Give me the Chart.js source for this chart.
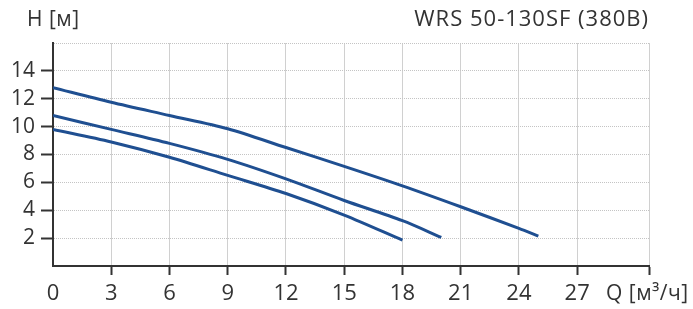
<!DOCTYPE html>
<html>
<head>
<meta charset="utf-8">
<script src="https://cdn.jsdelivr.net/npm/chart.js@4"></script>
<style>
  body { margin: 0; background: #fff; }
  #wrap { width: 693px; height: 309px; }
</style>
</head>
<body>
<div id="wrap"><canvas id="pumpChart" width="693" height="309"></canvas></div>
<script>
// Q [m3/h] vs H [m] curves
let q1 = [0, 3, 6, 9, 12, 15, 18, 21, 24, 25];
let h1 = [12.8, 11.75, 10.8, 9.85, 8.5, 7.15, 5.75, 4.25, 2.7, 2.15];
let q2 = [0, 3, 6, 9, 12, 15, 18, 20];
let h2 = [10.8, 9.8, 8.8, 7.65, 6.25, 4.7, 3.25, 2.05];
let q3 = [0, 3, 6, 9, 12, 15, 18];
let h3 = [9.8, 8.9, 7.8, 6.5, 5.2, 3.65, 1.85];

let xTicks = [0, 3, 6, 9, 12, 15, 18, 21, 24, 27];
let yTicks = [2, 4, 6, 8, 10, 12, 14];
let xMax = 30.7;
let yMax = 16;

let title = 'WRS 50-130SF (380B)';
let yName = 'H [м]';
let xName = 'Q [м³/ч]';

let lineColor = '#1f4f91';
let font = "'Open Sans', sans-serif";

function pts(xs, ys) {
  return xs.map((x, i) => ({ x: x, y: ys[i] }));
}

function curve(xs, ys) {
  return {
    data: pts(xs, ys),
    borderColor: lineColor,
    borderWidth: 3,
    pointRadius: 0,
    fill: false,
    tension: 0.3
  };
}

// axis names and title drawn on the canvas
const textPlugin = {
  id: 'texts',
  afterDraw(chart) {
    const c = chart.ctx;
    c.save();
    c.fillStyle = '#333';
    c.textBaseline = 'middle';
    c.font = '22px ' + font;
    c.letterSpacing = '1px';
    c.textAlign = 'right';
    c.fillText(title, 649, 20);
    c.textAlign = 'left';
    c.font = '21px ' + font;
    c.letterSpacing = '0.5px';
    c.fillText(yName, 27, 20);
    c.fillText(xName, 606, 294);
    c.restore();
  }
};

let ctx = document.getElementById('pumpChart').getContext('2d');

let myChart = new Chart(ctx, {
  type: 'line',
  data: {
    datasets: [curve(q1, h1), curve(q2, h2), curve(q3, h3)]
  },
  options: {
    responsive: false,
    animation: false,
    layout: { padding: { top: 43, right: 44, left: 0, bottom: 0 } },
    plugins: {
      legend: { display: false },
      tooltip: { enabled: false }
    },
    scales: {
      x: {
        type: 'linear',
        min: 0,
        max: xMax,
        afterBuildTicks: (s) => {
          s.ticks = xTicks.concat([xMax]).map(v => ({ value: v }));
        },
        afterFit: (s) => { s.height = 43; },
        ticks: {
          autoSkip: false,
          maxRotation: 0,
          padding: 6,
          color: '#333',
          font: { family: font, size: 22 },
          callback: (v) => (xTicks.includes(v) ? String(v) : '')
        },
        grid: {
          color: '#d0d0d0',
          lineWidth: 1,
          tickLength: 9,
          tickWidth: 2,
          tickColor: (c) => (c.tick && c.tick.value > 0 && c.tick.value <= xMax ? '#333' : 'rgba(0,0,0,0)')
        },
        border: { color: '#333', width: 2 }
      },
      y: {
        min: 0,
        max: yMax,
        afterBuildTicks: (s) => {
          s.ticks = [0].concat(yTicks, [yMax]).map(v => ({ value: v }));
        },
        afterFit: (s) => { s.width = 53; },
        ticks: {
          autoSkip: false,
          padding: 6,
          color: '#333',
          font: { family: font, size: 21 },
          callback: (v) => (yTicks.includes(v) ? String(v) : '')
        },
        grid: {
          color: '#c4c4c4',
          lineWidth: 1,
          tickLength: 12,
          tickWidth: 2,
          tickColor: (c) => (c.tick && yTicks.includes(c.tick.value) ? '#333' : 'rgba(0,0,0,0)')
        },
        border: { color: '#333', width: 2, dash: [1, 1] }
      }
    }
  },
  plugins: [textPlugin]
});
</script>
</body>
</html>
